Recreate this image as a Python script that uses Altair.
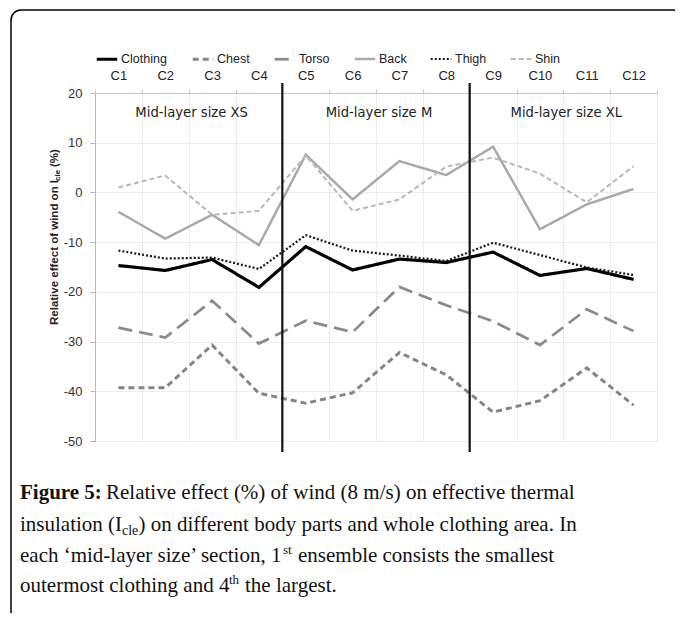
import altair as alt
import pandas as pd

categories = ["C1", "C2", "C3", "C4", "C5", "C6", "C7", "C8", "C9", "C10", "C11", "C12"]
series_names = ["Clothing", "Chest", "Torso", "Back", "Thigh", "Shin"]

clothing = [-14.7, -15.7, -13.5, -19.1, -10.9, -15.6, -13.4, -14.1, -12.0, -16.7, -15.3, -17.5]
chest = [-39.3, -39.3, -30.7, -40.4, -42.4, -40.3, -32.2, -36.7, -44.2, -41.9, -35.3, -42.8]
torso = [-27.2, -29.2, -21.8, -30.4, -25.8, -28.1, -19.0, -22.7, -25.9, -30.7, -23.5, -27.9]
back = [-3.9, -9.3, -4.5, -10.6, 7.6, -1.4, 6.3, 3.5, 9.2, -7.4, -2.4, 0.7]
thigh = [-11.7, -13.3, -13.1, -15.4, -8.6, -11.7, -12.7, -13.8, -10.1, -12.6, -15.1, -16.6]
shin = [1.0, 3.4, -4.5, -3.7, 7.4, -3.7, -1.4, 5.2, 7.0, 3.8, -2.0, 5.3]

section_labels = ["Mid-layer size XS", "Mid-layer size M", "Mid-layer size XL"]
section_anchor = ["C3", "C7", "C11"]
section_breaks = ["C5", "C9"]
y_ticks = [-50, -40, -30, -20, -10, 0, 10, 20]

rows = []
for name, vals in zip(series_names, [clothing, chest, torso, back, thigh, shin]):
    for c, v in zip(categories, vals):
        rows.append({"cat": c, "series": name, "value": v})
df = pd.DataFrame(rows)

W, H = 562, 348
SANS = "Liberation Sans"
SERIF = "Liberation Serif"

xscale = alt.Scale(type="band", domain=categories, paddingInner=0, paddingOuter=0)
yscale = alt.Scale(domain=[-50, 20], zero=False, nice=False)

colors = ["#000000", "#858585", "#8a8a8a", "#a9a9a9", "#1a1a1a", "#b8b8b8"]
dashes = [[1, 0], [6, 4], [14, 7], [1, 0], [2, 2], [5, 3]]
widths = [3.2, 2, 2, 2, 2, 2]


def leg():
    return alt.Legend(
        title=None, orient="none", legendX=0, legendY=-46, direction="horizontal",
        columns=6, symbolType="stroke", symbolSize=420, labelOffset=2,
        columnPadding=19, padding=0, labelFont=SANS, labelFontSize=12.5,
        labelColor="#222", symbolStrokeWidth=2,
    )


lines = alt.Chart(df).mark_line().encode(
    x=alt.X("cat:N", scale=xscale, bandPosition=0.5, title=None,
            axis=alt.Axis(orient="top", labelAngle=0, tickBand="extent", grid=True,
                          gridColor="#ececec", domainColor="#c8c8c8", tickColor="#c8c8c8",
                          tickSize=4, labelPadding=7, labelFont=SANS, labelFontSize=13,
                          labelColor="#222")),
    y=alt.Y("value:Q", scale=yscale, title=None,
            axis=alt.Axis(values=y_ticks, grid=True, gridColor="#ececec",
                          domainColor="#b8b8b8", tickColor="#b8b8b8", tickSize=5,
                          labelPadding=8, labelFont=SANS, labelFontSize=13,
                          labelColor="#333", labelExpr="datum.value + ''")),
    color=alt.Color("series:N", scale=alt.Scale(domain=series_names, range=colors), legend=leg()),
    strokeDash=alt.StrokeDash("series:N", scale=alt.Scale(domain=series_names, range=dashes), legend=leg()),
    strokeWidth=alt.StrokeWidth("series:N", scale=alt.Scale(domain=series_names, range=widths), legend=leg()),
)

breaks = alt.Chart(pd.DataFrame({"cat": section_breaks})).mark_rule(
    color="#111", strokeWidth=2.2
).encode(
    x=alt.X("cat:N", scale=xscale, bandPosition=0, title=None),
    y=alt.datum(22.0),
    y2=alt.datum(-52.2),
)

sections = alt.Chart(pd.DataFrame({"cat": section_anchor, "label": section_labels})).mark_text(
    font="DejaVu Sans", fontSize=13.2, color="#222", dx=3
).encode(
    x=alt.X("cat:N", scale=xscale, bandPosition=0, title=None),
    y=alt.datum(16.0),
    text="label:N",
)

dummy = pd.DataFrame({"a": [0]})


def txt(text, x, y, size, font=SERIF, weight="normal", angle=0, baseline="alphabetic", color="#111"):
    return alt.Chart(dummy).mark_text(
        text=text, font=font, fontSize=size, fontWeight=weight, align="left",
        baseline=baseline, angle=angle, color=color
    ).encode(x=alt.value(x), y=alt.value(y))


# y-axis title (rotated, with subscript)
ytitle = [
    txt("Relative effect of wind on I", -40, 232, 11.5, font=SANS, weight="bold", angle=270, baseline="middle", color="#222"),
    txt("cle", -37, 88, 8, font=SANS, weight="bold", angle=270, baseline="middle", color="#222"),
    txt("(%)", -40, 74, 11.5, font=SANS, weight="bold", angle=270, baseline="middle", color="#222"),
]

cap = [
    txt("Figure 5:", -75, 406, 21, weight="bold"),
    txt("Relative effect (%) of wind (8 m/s) on effective thermal", 11, 406, 21),
    txt("insulation (I", -75, 438, 21),
    txt("cle", 27, 442, 14),
    txt(") on different body parts and whole clothing area. In", 43.5, 438, 21),
    txt("each \u2018mid-layer size\u2019 section, 1", -75, 469, 21),
    txt("st", 188, 461, 13),
    txt("ensemble consists the smallest", 203, 469, 21),
    txt("outermost clothing and 4", -75, 499, 21),
    txt("th", 134, 491, 13),
    txt("the largest.", 150, 499, 21),
]

frame = alt.Chart(dummy).mark_rect(
    fillOpacity=0, stroke="#000", strokeWidth=1.5, cornerRadius=10
).encode(x=alt.value(-84), x2=alt.value(588), y=alt.value(-83), y2=alt.value(560))

chart = alt.layer(lines, breaks, sections, *ytitle, *cap, frame).properties(
    width=W, height=H,
    autosize=alt.AutoSizeParams(type="none"),
    padding={"left": 87, "top": 85, "right": 18, "bottom": 172},
).configure_view(stroke="#c8c8c8").configure(background="white")

chart.save("out.html", embed_options={"renderer": "svg", "actions": False})
